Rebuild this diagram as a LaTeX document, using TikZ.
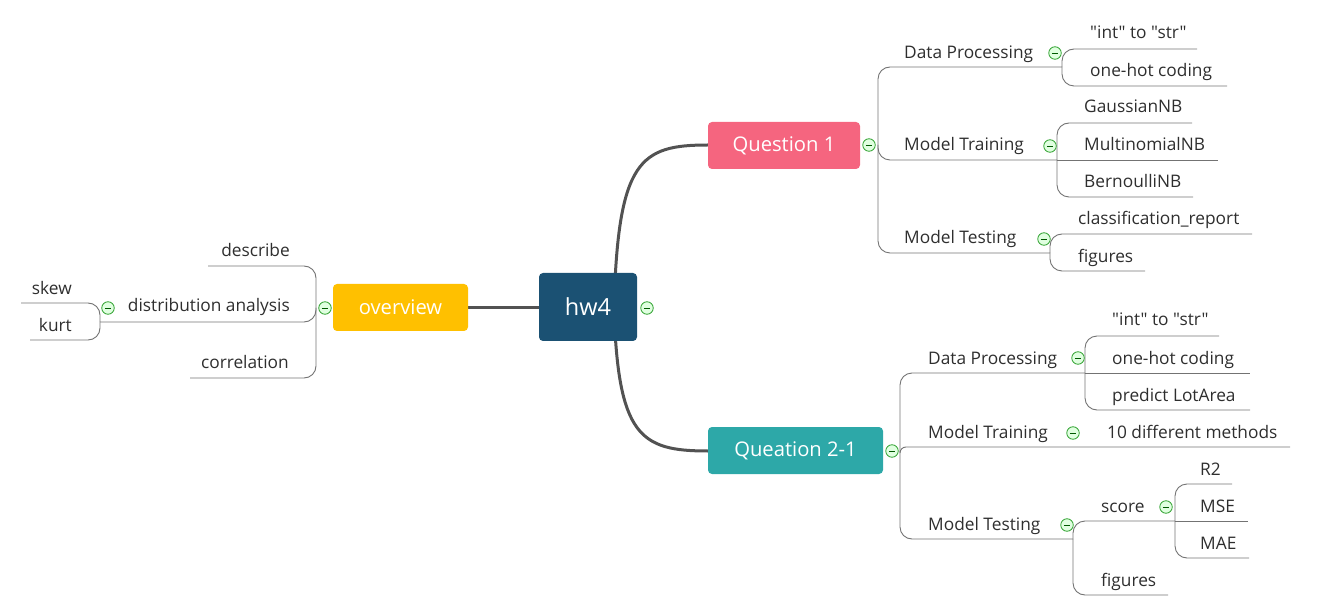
\documentclass[tikz,border=0pt]{standalone}
\usepackage{fontspec}
\setmainfont{Open Sans}[Ligatures=TeXOff]
\begin{document}
\begin{tikzpicture}[x=1pt,y=-1pt,
  mainline/.style={draw=black!68, line width=3pt},
  branch/.style={draw=black!55, line width=0.9pt, rounded corners=12pt},
  topic/.style={rounded corners=4pt, text=white, inner sep=0pt, font=\fontsize{20.2}{24}\selectfont},
  sub/.style={text=black!82, inner sep=0pt, font=\fontsize{17.3}{20}\selectfont},
  collapse/.style={circle, draw=green!55!black!80, fill=green!12, line width=0.8pt, minimum size=12.5pt, inner sep=0pt,
    path picture={\draw[green!35!black, line width=0.9pt] ([xshift=-3.2pt]path picture bounding box.center) -- ([xshift=3.2pt]path picture bounding box.center);}}
]
\definecolor{cblue}{HTML}{1B5173}
\definecolor{cpink}{HTML}{F5657F}
\definecolor{cteal}{HTML}{2DA8A8}
\definecolor{cyell}{HTML}{FFC000}
\useasboundingbox (0,0) rectangle (1320,612);

% centres of the topics
\coordinate (c0) at (614,308);
\coordinate (s1) at (878,145);
\coordinate (s2) at (900,451);
\coordinate (s3) at (316,308);

% main connectors
\draw[mainline] (c0) .. controls (618,160) and (640,145) .. (708,145);
\draw[mainline] (c0) .. controls (618,436) and (640,451) .. (708,451);
\draw[mainline] (c0) -- (468,308);

% ---------------- Question 1 ----------------
\coordinate (dp1) at (1062,67);
\coordinate (mt1) at (1057,160);
\coordinate (te1) at (1050,253);
\draw[branch] (s1) |- (dp1);
\draw[branch] (s1) |- (mt1);
\draw[branch] (s1) |- (te1);
\draw[branch] (dp1) |- (1197,49);
\draw[branch] (dp1) |- (1227,86);
\draw[branch] (mt1) |- (1192,123);
\draw[branch] (mt1) -- (1218,160);
\draw[branch] (mt1) |- (1193,197);
\draw[branch] (te1) |- (1252,234);
\draw[branch] (te1) |- (1145,271);

\node[sub, anchor=base west] (q1dp) at (904,59) {Data Processing};
\node[sub, anchor=base west] (q1mt) at (904,151) {Model Training};
\node[sub, anchor=base west] (q1te) at (904,244) {Model Testing};
\node[sub, anchor=base west] (q1a) at (1090,39) {"int" to "str"};
\node[sub, anchor=base west] (q1b) at (1090,77) {one-hot coding};
\node[sub, anchor=base west] (q1c) at (1084,113) {GaussianNB};
\node[sub, anchor=base west] (q1d) at (1084,151) {MultinomialNB};
\node[sub, anchor=base west] (q1e) at (1084,188) {BernoulliNB};
\node[sub, anchor=base west] (q1f) at (1078,225) {classification\_report};
\node[sub, anchor=base west] (q1g) at (1078,263) {figures};

% ---------------- Question 2-1 ----------------
\coordinate (dp2) at (1085,373);
\coordinate (mt2) at (1290,447);
\coordinate (te2) at (1073,539);
\coordinate (sc2) at (1175,521);
\draw[branch, rounded corners=6pt] (s2) |- (mt2);
\draw[branch] (s2) |- (dp2);
\draw[branch] (s2) |- (te2);
\draw[branch] (dp2) |- (1219,336);
\draw[branch] (dp2) -- (1250,373);
\draw[branch] (dp2) |- (1250,410);
\draw[branch] (te2) |- (sc2);
\draw[branch] (te2) |- (1168,595);
\draw[branch] (sc2) |- (1232,484);
\draw[branch] (sc2) -- (1248,521);
\draw[branch] (sc2) |- (1249,558);

\node[sub, anchor=base west] (q2dp) at (928,364) {Data Processing};
\node[sub, anchor=base west] (q2mt) at (928,438) {Model Training};
\node[sub, anchor=base west] (q2te) at (928,530) {Model Testing};
\node[sub, anchor=base west] (q2a) at (1112,326) {"int" to "str"};
\node[sub, anchor=base west] (q2b) at (1112,364) {one-hot coding};
\node[sub, anchor=base west] (q2c) at (1112,401) {predict LotArea};
\node[sub, anchor=base west] (q2d) at (1107,438) {10 different methods};
\node[sub, anchor=base west] (q2e) at (1101,512) {score};
\node[sub, anchor=base west] (q2f) at (1101,586) {figures};
\node[sub, anchor=base west] (q2g) at (1200,475) {R2};
\node[sub, anchor=base west] (q2h) at (1200,512) {MSE};
\node[sub, anchor=base west] (q2i) at (1200,549) {MAE};

% ---------------- overview ----------------
\coordinate (da3) at (100,322);
\draw[branch] (s3) |- (208,266);
\draw[branch] (s3) |- (da3);
\draw[branch] (s3) |- (190,378);
\draw[branch] (da3) |- (21,303);
\draw[branch] (da3) |- (30,340);

\node[sub, anchor=base east] (ovd) at (290,257) {describe};
\node[sub, anchor=base east] (ova) at (290,312) {distribution analysis};
\node[sub, anchor=base east] (ovc) at (289,368) {correlation};
\node[sub, anchor=base east] (ovs) at (72,295) {skew};
\node[sub, anchor=base east] (ovk) at (72,331) {kurt};

% ---------------- topics ----------------
\node[topic, fill=cblue, minimum width=98pt, minimum height=68pt, font=\fontsize{23.5}{28}\selectfont] (hw) at (588,307) {hw4};
\node[topic, fill=cpink, minimum width=152pt, minimum height=47pt] (q1) at (784,145.5) {Question 1};
\node[topic, fill=cteal, minimum width=175pt, minimum height=47pt] (q2) at (795.5,450.5) {Queation 2-1};
\node[topic, fill=cyell, minimum width=135pt, minimum height=47pt] (ov) at (400.5,307.5) {overview};

% ---------------- collapse buttons ----------------
\node[collapse] (b0) at (647,308) {};
\node[collapse] (b1) at (869,145) {};
\node[collapse] (b2) at (892,451) {};
\node[collapse] (b3) at (325,308) {};
\node[collapse] (b4) at (1055,53) {};
\node[collapse] (b5) at (1050,146) {};
\node[collapse] (b6) at (1044,239) {};
\node[collapse] (b7) at (1078,358) {};
\node[collapse] (b8) at (1073,433) {};
\node[collapse] (b9) at (1067,525) {};
\node[collapse] (b10) at (1166,507) {};
\node[collapse] (b11) at (108,308) {};
\end{tikzpicture}
\end{document}
